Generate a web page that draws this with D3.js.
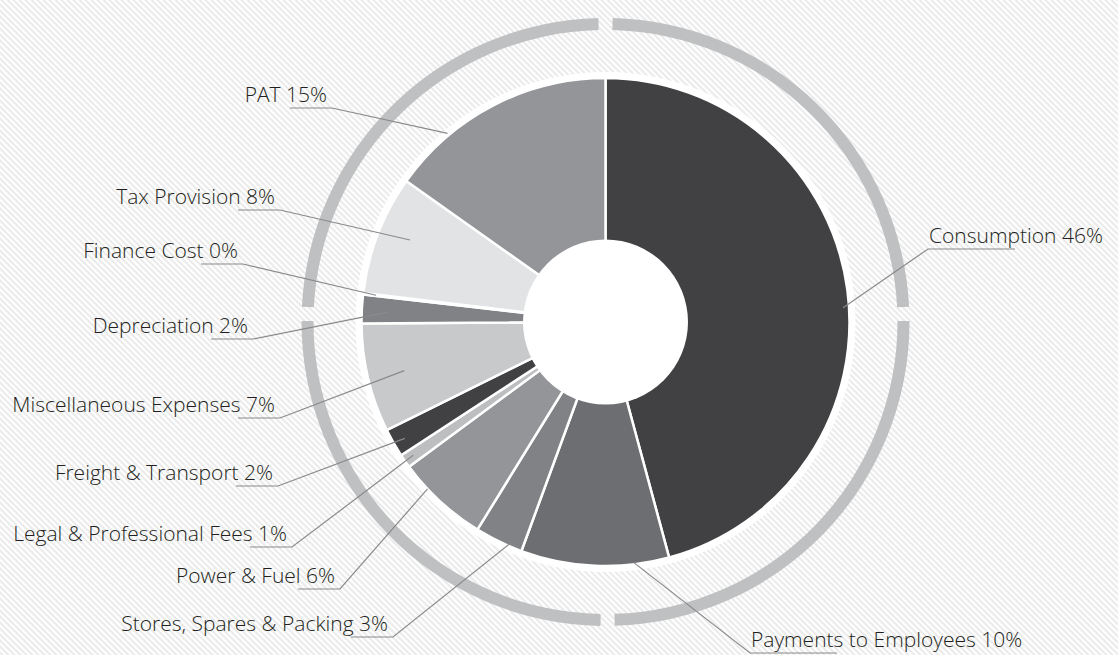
<html>

<head>
    <meta charset="utf-8">
    <style>
        body {
            margin: 0;
            background: #ffffff;
            font-family: "Open Sans", "DejaVu Sans", sans-serif;
        }

        svg {
            display: block;
        }
    </style>

    <script src="https://d3js.org/d3.v7.min.js"></script>

</head>

<body>
    <svg id="Donut"></svg>
</body>

<script>
    // DATA (percent of total, going clockwise from 12 o'clock)
    let categories = [
        "Consumption", "Payments to Employees", "Stores, Spares & Packing", "Power & Fuel",
        "Legal & Professional Fees", "Freight & Transport", "Miscellaneous Expenses",
        "Depreciation", "Finance Cost", "Tax Provision", "PAT"
    ]
    let shares = [45.8, 9.8, 3.2, 6.1, 0.9, 1.9, 7.2, 1.9, 0.1, 7.9, 15.2]
    let shareLabels = ["46%", "10%", "3%", "6%", "1%", "2%", "7%", "2%", "0%", "8%", "15%"]

    // LAYOUT for the callouts (not data): side, elbow x, underline y,
    // where along the slice the leader starts and how far out
    let labelSide = ["right", "right", "left", "left", "left", "left", "left", "left", "left", "left", "left"]
    let labelElbowX = [928, 750, 393, 340, 292, 278, 280, 253, 243, 280, 332]
    let labelLineY = [249, 653, 637, 589, 547, 486, 418, 339, 264, 210, 108]
    let leaderFrac = [0.525, 0.24, 0.26, 0.69, 0.5, 0.44, 0.49, 0.43, 0.5, 0.56, 0.27]
    let leaderRadius = [238, 242, 240, 244, 234, 232, 207, 218, 231, 212, 246]

    let sliceColors = ["#414042", "#6d6e71", "#808285", "#939598", "#bcbec0", "#414042",
        "#c8c9cb", "#808285", "#808285", "#e2e3e4", "#939598"]

    let width = 1118
    let height = 655
    let center = { x: 605.5, y: 322 }
    let radii = { inner: 82.5, outer: 244, halo: 250, ringInner: 292, ringOuter: 304 }

    // the outer ring is broken in four places (angles in radians, 0 = 12 o'clock)
    let ringBreaks = [0.0, Math.PI / 2 - 0.027, Math.PI - 0.007, 3 * Math.PI / 2 + 0.027]
    let ringGap = 0.0235

    drawChart()

    function drawChart() {
        let svg = d3.select("#Donut")
            .attr("width", width)
            .attr("height", height)

        drawBackground(svg)

        let body = svg.append("g")
            .attr("transform", `translate(${center.x},${center.y})`)

        drawRing(body)
        let arcs = drawSlices(body)
        drawLabels(svg, arcs)
    }

    function drawBackground(svg) {
        let pattern = svg.append("defs").append("pattern")
            .attr("id", "stripes")
            .attr("patternUnits", "userSpaceOnUse")
            .attr("width", 6)
            .attr("height", 6)
        pattern.append("rect")
            .attr("width", 6)
            .attr("height", 6)
            .attr("fill", "#ffffff")
        pattern.append("path")
            .attr("d", "M0,0 L3,0 L6,3 L6,6 Z M0,3 L3,6 L0,6 Z")
            .attr("fill", "#ebebeb")

        svg.append("rect")
            .attr("width", width)
            .attr("height", height)
            .attr("fill", "url(#stripes)")
    }

    function drawRing(body) {
        let segments = ringBreaks.map((b, i) => {
            let next = i + 1 < ringBreaks.length ? ringBreaks[i + 1] : ringBreaks[0] + 2 * Math.PI
            return { startAngle: b + ringGap, endAngle: next - ringGap }
        })
        let ringArc = d3.arc()
            .innerRadius(radii.ringInner)
            .outerRadius(radii.ringOuter)

        body.append("g").selectAll("path")
            .data(segments)
            .enter().append("path")
            .attr("d", ringArc)
            .attr("fill", "#bfc0c2")
    }

    function drawSlices(body) {
        let data = categories.map((c, i) => ({ name: c, value: shares[i], index: i }))
        let pie = d3.pie()
            .value(d => d.value)
            .sort(null)
        let arcs = pie(data)

        // white halo behind the pie
        body.append("circle")
            .attr("r", radii.halo)
            .attr("fill", "#ffffff")

        let sliceArc = d3.arc()
            .innerRadius(0)
            .outerRadius(radii.outer)

        body.append("g").selectAll("path")
            .data(arcs)
            .enter().append("path")
            .attr("d", sliceArc)
            .attr("fill", d => sliceColors[d.index])
            .attr("stroke", "#ffffff")
            .attr("stroke-width", 2.5)
            .attr("stroke-linejoin", "miter")

        body.append("circle")
            .attr("r", radii.inner)
            .attr("fill", "#ffffff")

        return arcs
    }

    function drawLabels(svg, arcs) {
        let g = svg.append("g")

        arcs.forEach(a => {
            let i = a.index
            let angle = a.startAngle + (a.endAngle - a.startAngle) * leaderFrac[i]
            let r = leaderRadius[i]
            let ax = center.x + r * Math.sin(angle)
            let ay = center.y - r * Math.cos(angle)
            let ex = labelElbowX[i]
            let ey = labelLineY[i]
            let left = labelSide[i] === "left"
            let tail = left ? ex - 42 : ex + 87

            g.append("polyline")
                .attr("points", `${ax},${ay} ${ex},${ey} ${tail},${ey}`)
                .attr("fill", "none")
                .attr("stroke", "#8a8a8c")
                .attr("stroke-width", 1.2)

            g.append("text")
                .attr("x", left ? ex - 5 : ex + 1)
                .attr("y", ey - 6)
                .attr("text-anchor", left ? "end" : "start")
                .attr("font-size", 21)
                .attr("font-weight", 300)
                .attr("fill", "#231f20")
                .text(`${categories[i]} ${shareLabels[i]}`)
        })
    }
</script>

</html>
